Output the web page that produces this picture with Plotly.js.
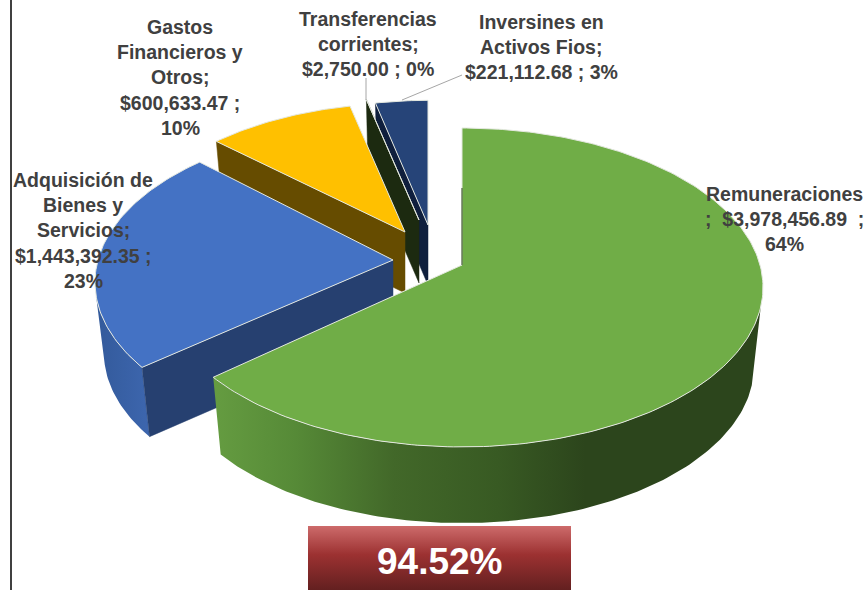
<!DOCTYPE html>
<html>
<head>
<meta charset="utf-8">
<script src="https://cdn.plot.ly/plotly-3.0.1.min.js"></script>
<style>html,body{margin:0;padding:0;background:#fff}#c{width:866px;height:590px}</style>
</head>
<body>
<div id="c"></div>
<script>
// ---- data ----
const categories = ["Remuneraciones", "Adquisición de Bienes y Servicios", "Gastos Financieros y Otros", "Transferencias corrientes", "Inversines en Activos Fios"];
const amounts = [3978456.89, 1443392.35, 600633.47, 2750.00, 221112.68];
const badgeText = "94.52%";
const labelLines = [
  ["Remuneraciones", ";  $3,978,456.89  ;", "64%"],
  ["Adquisición de", "Bienes y", "Servicios;", "$1,443,392.35 ;", "23%"],
  ["Gastos", "Financieros y", "Otros;", "$600,633.47 ;", "10%"],
  ["Transferencias", "corrientes;", "$2,750.00 ; 0%"],
  ["Inversines en", "Activos Fios;", "$221,112.68 ; 3%"]
];

// ---- drawing geometry and styles ----
const labelAnchors = [[784, 194], [83, 180], [180, 27], [368, 19], [541, 22]];
const lineStep = 25.2;
const apexX = [462, 393, 405, 419, 428];
const apexY = [265, 260, 232, 220, 225];
const sliceScale = [1, 0.99, 0.94, 0.9, 0.91];
const sliceTilt = [0, 1.5, 0, 0, 0];
const wallDepth = [79, 71, 61, 63, 60];
const topColors = ["#70ad47", "#4472c4", "#ffc000", "#1c2a10", "#264478"];
const radialWallColors = ["#2c451c", "#264070", "#664c00", "#1c2a10", "#0f1f3d"];
const edgeColor = "#e4e8e0";
const RX = 298, RY = 156.3, K = 0.141;

const total = amounts.reduce((a, b) => a + b, 0);
const starts = [];
amounts.reduce((acc, v, i) => { starts[i] = acc; return acc + v / total * 360; }, 0);
const ends = amounts.map((v, i) => starts[i] + v / total * 360);
const rad = d => d * Math.PI / 180;

function topPt(i, deg) {
  const a = rad(deg + sliceTilt[i]);
  const s = Math.sin(a), c = Math.cos(a), w = 1 + K * c;
  return [apexX[i] + sliceScale[i] * RX * s / w, apexY[i] - sliceScale[i] * RY * c / w];
}
function bottomPt(i, deg) {
  const p = topPt(i, deg);
  return [apexX[i] + (p[0] - apexX[i]) * 0.97, apexY[i] + (p[1] - apexY[i]) * 0.984 + wallDepth[i]];
}
function arc(fn, i, a, b) {
  const pts = [], n = Math.max(2, Math.ceil(Math.abs(b - a)));
  for (let j = 0; j <= n; j++) pts.push(fn(i, a + (b - a) * j / n));
  return pts;
}
function poly(pts, fill, extra) {
  return Object.assign({
    type: "scatter", mode: "lines", hoverinfo: "skip", showlegend: false,
    x: pts.map(p => p[0]).concat([pts[0][0]]),
    y: pts.map(p => p[1]).concat([pts[0][1]]),
    fill: "toself", fillcolor: fill,
    line: { color: edgeColor, width: 1 }
  }, extra || {});
}
function radialWall(i) {
  return poly([topPt(i, starts[i]), [apexX[i], apexY[i]], [apexX[i], apexY[i] + wallDepth[i]], bottomPt(i, starts[i])],
    radialWallColors[i], { line: { color: radialWallColors[i], width: 0.5 } });
}
function topFace(i) {
  return poly([[apexX[i], apexY[i]]].concat(arc(topPt, i, starts[i], ends[i])), topColors[i]);
}
function outerWall(i, a, b, stops) {
  const pts = arc(topPt, i, a, b).concat(arc(bottomPt, i, b, a));
  return poly(pts, "rgba(0,0,0,0)", {
    fillgradient: { type: "horizontal", colorscale: stops },
    line: { color: "rgba(0,0,0,0)", width: 0 }
  });
}
function guide(xs, ys, color, width) {
  return { type: "scatter", mode: "lines", hoverinfo: "skip", showlegend: false, x: xs, y: ys, line: { color: color, width: width } };
}

const greenStops = [[0, "#659c41"], [0.15, "#568a37"], [0.33, "#426829"], [0.52, "#385a23"], [0.68, "#2c451c"], [1, "#2c451c"]];
const blueStops = [[0, "#335a9b"], [1, "#3d66ae"]];

const traces = [
  guide([11, 11], [0, 590], "#000000", 1.5),
  // Farthest slices first so that nearer faces overlap them
  radialWall(4), topFace(4),
  radialWall(3), topFace(3),
  radialWall(2), topFace(2),
  outerWall(1, ends[0], 256, blueStops),
  radialWall(1), topFace(1),
  outerWall(0, 105, ends[0], greenStops),
  topFace(0),
  guide([topPt(0, 0)[0], apexX[0]], [topPt(0, 0)[1] + 60, apexY[0]], "#2c451c", 1),
  guide([366, 366], [78, 100], "#a6a6a6", 1),
  guide([402, 462], [100, 75], "#a6a6a6", 1),
  // Badge
  {
    type: "scatter", mode: "lines", hoverinfo: "skip", showlegend: false,
    x: [308, 571, 571, 308, 308], y: [526, 526, 590, 590, 526],
    fill: "toself",
    fillgradient: { type: "vertical", start: 526, stop: 590,
      colorscale: [[0, "#cd6b6b"], [0.45, "#9c3131"], [1, "#632020"]] },
    line: { color: "rgba(0,0,0,0)", width: 0 }
  }
];

const annotations = [];
labelLines.forEach((lines, i) => {
  lines.forEach((t, j) => annotations.push({
    x: labelAnchors[i][0], y: labelAnchors[i][1] + j * lineStep, xref: "x", yref: "y",
    text: t, showarrow: false, xanchor: "center", yanchor: "middle",
    font: { family: "Liberation Sans, Arial, sans-serif", size: 19.5, color: "#404040", weight: 700 }
  }));
});
annotations.push({
  x: 440, y: 561, xref: "x", yref: "y", text: badgeText, showarrow: false,
  xanchor: "center", yanchor: "middle",
  font: { family: "Liberation Sans, Arial, sans-serif", size: 37, color: "#ffffff", weight: 700 }
});

Plotly.newPlot("c", traces, {
  width: 866, height: 590,
  margin: { l: 0, r: 0, t: 0, b: 0 },
  paper_bgcolor: "#ffffff", plot_bgcolor: "#ffffff",
  showlegend: false,
  xaxis: { range: [0, 866], visible: false, fixedrange: true },
  yaxis: { range: [590, 0], visible: false, fixedrange: true },
  annotations: annotations
}, { displayModeBar: false, staticPlot: true });
</script>
</body>
</html>
